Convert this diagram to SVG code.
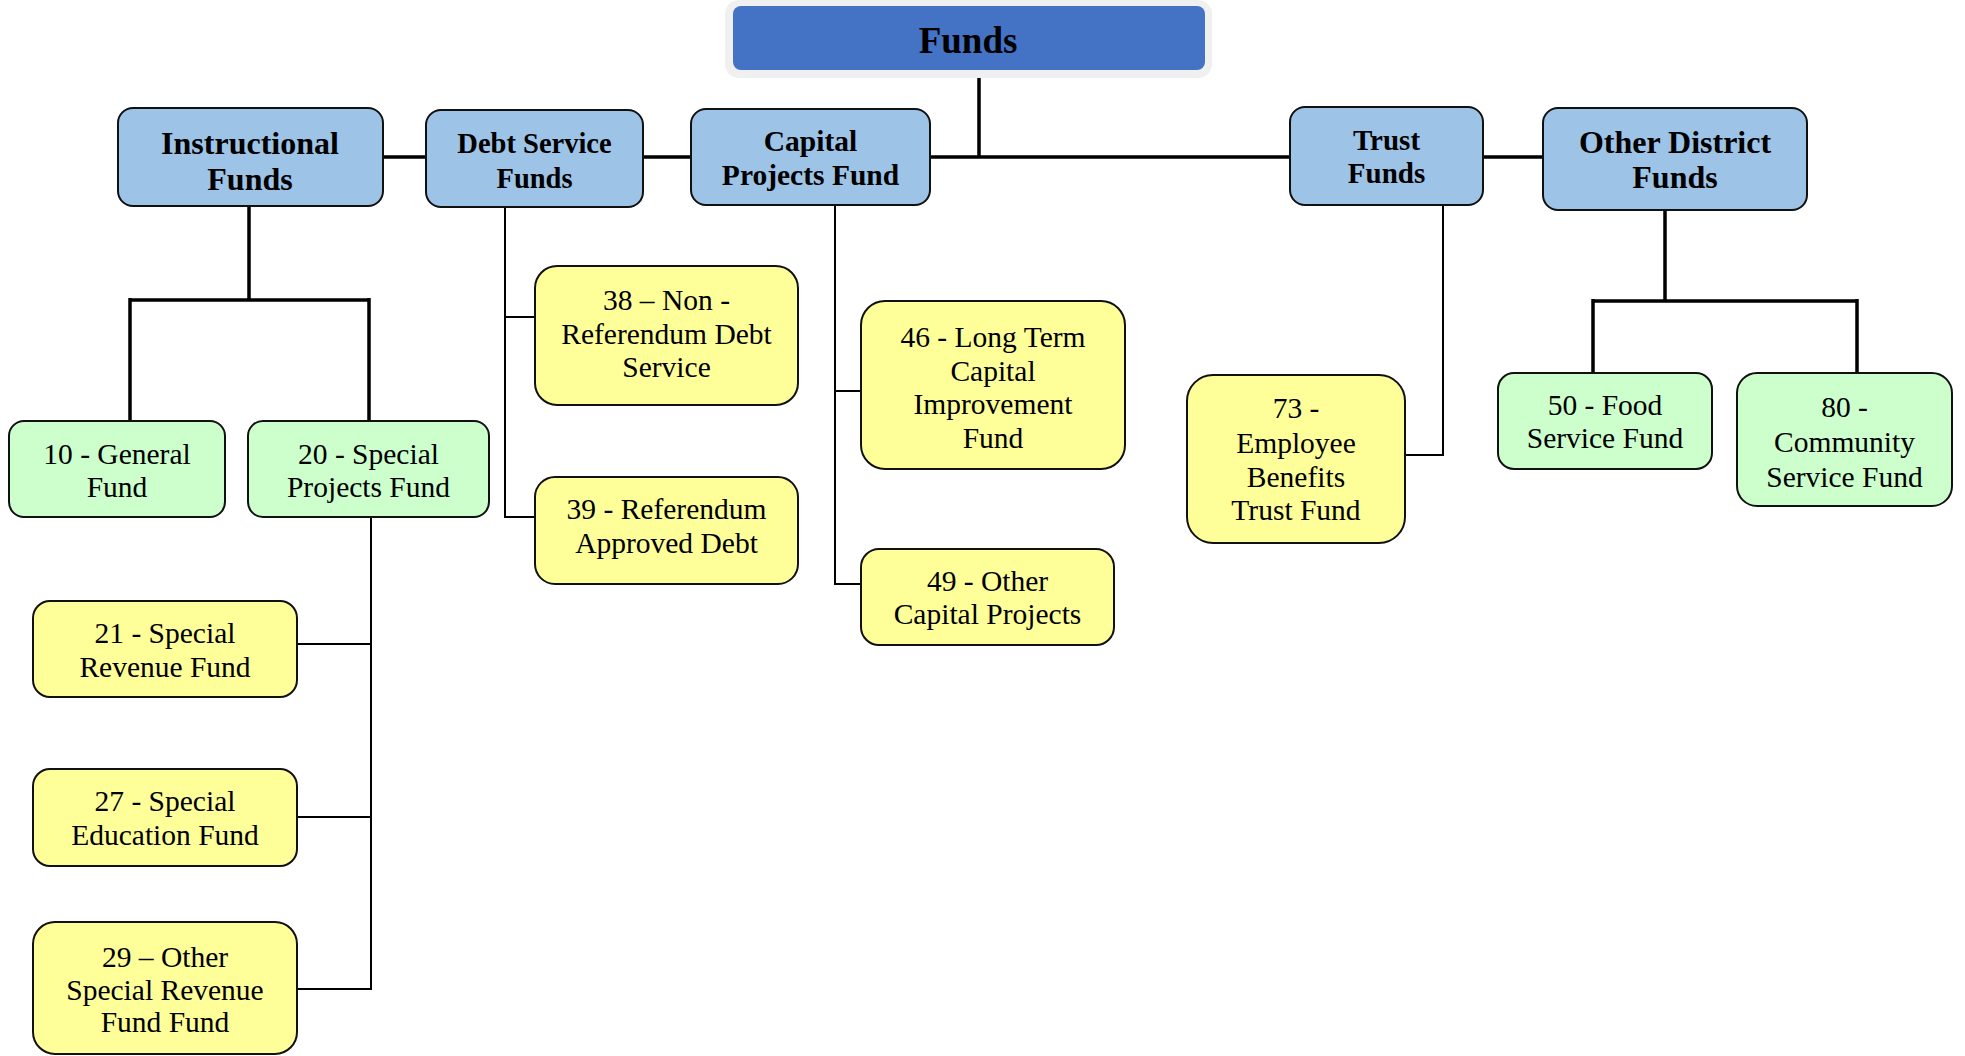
<svg xmlns="http://www.w3.org/2000/svg" width="1965" height="1056" viewBox="0 0 1965 1056">
<style>
text{font-family:"Liberation Serif","Times New Roman",serif;fill:#000;text-anchor:middle}
.h{font-weight:bold}
.r{font-size:29.5px}
.hb{fill:#9DC3E6;stroke:#111;stroke-width:2}
.y{fill:#FFFF99;stroke:#111;stroke-width:2}
.g{fill:#CCFFCC;stroke:#111;stroke-width:2}
.thick{fill:none;stroke:#000;stroke-width:3.5}
.thin{fill:none;stroke:#000;stroke-width:2}
</style>
<rect width="1965" height="1056" fill="#fff"/>
<g id="connectors">
<path class="thick" d="M979 70V157M383 157H426M643 157H691M930 157H1290M1483 157H1543"/>
<path class="thick" d="M249 206V300M130 300H369M130 298V421M369 298V421"/>
<path class="thick" d="M1665 210V301M1593 301H1857M1593 299V373M1857 299V373"/>
<path class="thin" d="M505 207V517H535M505 317H535"/>
<path class="thin" d="M835 205V584H861M835 391H861"/>
<path class="thin" d="M1443 205V455H1405"/>
<path class="thin" d="M371 517V989H297M371 644H297M371 817H297"/>
</g>
<g id="funds">
<rect x="725" y="0" width="487" height="78" rx="14" fill="#F0F0F0"/>
<rect x="733" y="6" width="472" height="64" rx="8" fill="#4472C4"/>
<text class="h" x="968" y="53" font-size="37">Funds</text>
</g>
<g id="instructional">
<rect class="hb" x="118" y="108" width="265" height="98" rx="15"/>
<text class="h" x="250" font-size="32"><tspan x="250" y="154">Instructional</tspan><tspan x="250" y="190">Funds</tspan></text>
</g>
<g id="debt">
<rect class="hb" x="426" y="110" width="217" height="97" rx="15"/>
<text class="h" font-size="28.5"><tspan x="534.5" y="153">Debt Service</tspan><tspan x="534.5" y="188">Funds</tspan></text>
</g>
<g id="capital">
<rect class="hb" x="691" y="109" width="239" height="96" rx="15"/>
<text class="h" font-size="29.5"><tspan x="810.5" y="151">Capital</tspan><tspan x="810.5" y="185">Projects Fund</tspan></text>
</g>
<g id="trust">
<rect class="hb" x="1290" y="107" width="193" height="98" rx="15"/>
<text class="h" font-size="29"><tspan x="1386.5" y="150">Trust</tspan><tspan x="1386.5" y="183">Funds</tspan></text>
</g>
<g id="other">
<rect class="hb" x="1543" y="108" width="264" height="102" rx="15"/>
<text class="h" font-size="32"><tspan x="1675" y="153">Other District</tspan><tspan x="1675" y="188">Funds</tspan></text>
</g>
<g id="f10">
<rect class="g" x="9" y="421" width="216" height="96" rx="15"/>
<text class="r"><tspan x="117" y="464">10 - General</tspan><tspan x="117" y="497">Fund</tspan></text>
</g>
<g id="f20">
<rect class="g" x="248" y="421" width="241" height="96" rx="15"/>
<text class="r"><tspan x="368.5" y="464">20 - Special</tspan><tspan x="368.5" y="497">Projects Fund</tspan></text>
</g>
<g id="f21">
<rect class="y" x="33" y="601" width="264" height="96" rx="17"/>
<text class="r"><tspan x="165" y="643">21 - Special</tspan><tspan x="165" y="677">Revenue Fund</tspan></text>
</g>
<g id="f27">
<rect class="y" x="33" y="769" width="264" height="97" rx="17"/>
<text class="r"><tspan x="165" y="811">27 - Special</tspan><tspan x="165" y="845">Education Fund</tspan></text>
</g>
<g id="f29">
<rect class="y" x="33" y="922" width="264" height="132" rx="22"/>
<text class="r"><tspan x="165" y="967">29 – Other</tspan><tspan x="165" y="999.5">Special Revenue</tspan><tspan x="165" y="1032">Fund Fund</tspan></text>
</g>
<g id="f38">
<rect class="y" x="535" y="266" width="263" height="139" rx="22"/>
<text class="r"><tspan x="666.5" y="310">38 – Non -</tspan><tspan x="666.5" y="343.5">Referendum Debt</tspan><tspan x="666.5" y="377">Service</tspan></text>
</g>
<g id="f39">
<rect class="y" x="535" y="477" width="263" height="107" rx="20"/>
<text class="r"><tspan x="666.5" y="519">39 - Referendum</tspan><tspan x="666.5" y="553">Approved Debt</tspan></text>
</g>
<g id="f46">
<rect class="y" x="861" y="301" width="264" height="168" rx="24"/>
<text class="r"><tspan x="993" y="347">46 - Long Term</tspan><tspan x="993" y="381">Capital</tspan><tspan x="993" y="414">Improvement</tspan><tspan x="993" y="448">Fund</tspan></text>
</g>
<g id="f49">
<rect class="y" x="861" y="549" width="253" height="96" rx="18"/>
<text class="r"><tspan x="987.5" y="591">49 - Other</tspan><tspan x="987.5" y="624">Capital Projects</tspan></text>
</g>
<g id="f73">
<rect class="y" x="1187" y="375" width="218" height="168" rx="26"/>
<text class="r"><tspan x="1296" y="418">73 -</tspan><tspan x="1296" y="453">Employee</tspan><tspan x="1296" y="487">Benefits</tspan><tspan x="1296" y="520">Trust Fund</tspan></text>
</g>
<g id="f50">
<rect class="g" x="1498" y="373" width="214" height="96" rx="16"/>
<text class="r"><tspan x="1605" y="415">50 - Food</tspan><tspan x="1605" y="448">Service Fund</tspan></text>
</g>
<g id="f80">
<rect class="g" x="1737" y="373" width="215" height="133" rx="20"/>
<text class="r"><tspan x="1844.5" y="417">80 -</tspan><tspan x="1844.5" y="452">Community</tspan><tspan x="1844.5" y="487">Service Fund</tspan></text>
</g>
</svg>
